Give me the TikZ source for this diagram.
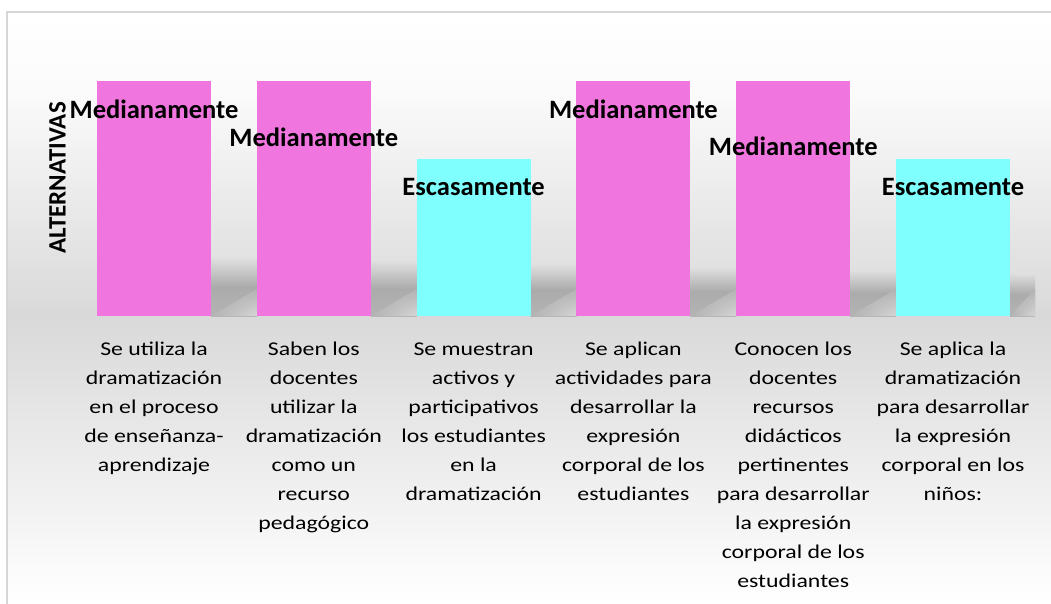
\documentclass[tikz,border=0pt]{standalone}
\usepackage{fontspec}
\usetikzlibrary{shadings}
\setmainfont{Carlito}
\newfontfamily\catfont{Carlito}[FakeStretch=1.22]
\definecolor{mag}{HTML}{F075DE}
\definecolor{cyn}{HTML}{80FFFF}
\definecolor{framegray}{HTML}{D6D6D6}
\definecolor{bgA}{HTML}{FBFBFB}
\definecolor{bgB}{HTML}{D9D9D9}
\definecolor{flA}{HTML}{E0E0E0}
\definecolor{flB}{HTML}{ABABAB}
\definecolor{flC}{HTML}{B4B4B4}
\definecolor{flD}{HTML}{B2B2B2}
\definecolor{flE}{HTML}{D6D6D6}
\tikzset{
  barbox/.style={draw=none, inner sep=0pt, minimum width=114pt, minimum height=#1, anchor=south},
  maglabel/.style={font=\bfseries\fontsize{26.5}{30}\selectfont, inner sep=0pt, anchor=base, text=black},
  catlabel/.style={font=\catfont\fontsize{19.5}{29}\selectfont, inner sep=0pt, anchor=north, align=center, text=black},
  axlabel/.style={font=\bfseries\fontsize{25}{28}\selectfont, inner sep=0pt, rotate=90, text=black}
}
\begin{document}
\begin{tikzpicture}[x=1pt,y=-1pt]
\useasboundingbox (0,0) rectangle (1051,604);
\fill[white] (0,0) rectangle (1051,604);
% chart area background
\shade[top color=white, bottom color=bgA] (7,12) rectangle (1051,90.5);
\shade[top color=bgA, bottom color=bgB] (7,90) rectangle (1051,316.5);
\shade[top color=bgB, bottom color=white] (7,316) rectangle (1051,604);
\draw[framegray, line width=1.2pt] (7,604) -- (7,12) -- (1051,12);
% floor shadows
\foreach \i in {0,...,5}{
  \pgfmathsetmacro{\xr}{211+159.8*\i}
  \pgfmathsetmacro{\xn}{\i<5 ? 257+159.8*\i : 1035}
  \pgfmathsetmacro{\yt}{258+3*\i}
  \shade[top color=flA, bottom color=flC, middle color=flB] (\xr,\yt) rectangle (\xn,316);
  \shade[upper left=flD, lower left=flD, upper right=flD, lower right=flE] (\xr,316) -- (\xn,289) -- (\xn,316) -- cycle;
}
% bars
\node[barbox=235pt, fill=mag] (b1) at (154,316) {};
\node[barbox=235pt, fill=mag] (b2) at (313.8,316) {};
\node[barbox=157pt, fill=cyn] (b3) at (473.6,316) {};
\node[barbox=235pt, fill=mag] (b4) at (633.4,316) {};
\node[barbox=235pt, fill=mag] (b5) at (793.2,316) {};
\node[barbox=157pt, fill=cyn] (b6) at (953,316) {};
% value labels
\node[maglabel] (v1) at (154,118.3) {Medianamente};
\node[maglabel] (v2) at (313.8,146.7) {Medianamente};
\node[maglabel] (v3) at (473.6,196) {Escasamente};
\node[maglabel] (v4) at (633.4,118.3) {Medianamente};
\node[maglabel] (v5) at (793.2,156) {Medianamente};
\node[maglabel] (v6) at (953,196) {Escasamente};
% axis title
\node[axlabel] (ax) at (57.5,178) {ALTERNATIVAS};
% category labels
\node[catlabel] (c1) at (154,335) {\rule{0pt}{20pt}Se utiliza la\\dramatización\\en el proceso\\de enseñanza-\\aprendizaje};
\node[catlabel] (c2) at (313.8,335) {\rule{0pt}{20pt}Saben los\\docentes\\utilizar la\\dramatización\\como un\\recurso\\pedagógico};
\node[catlabel] (c3) at (473.6,335) {\rule{0pt}{20pt}Se muestran\\activos y\\participativos\\los estudiantes\\en la\\dramatización};
\node[catlabel] (c4) at (633.4,335) {\rule{0pt}{20pt}Se aplican\\actividades para\\desarrollar la\\expresión\\corporal de los\\estudiantes};
\node[catlabel] (c5) at (793.2,335) {\rule{0pt}{20pt}Conocen los\\docentes\\recursos\\didácticos\\pertinentes\\para desarrollar\\la expresión\\corporal de los\\estudiantes};
\node[catlabel] (c6) at (953,335) {\rule{0pt}{20pt}Se aplica la\\dramatización\\para desarrollar\\la expresión\\corporal en los\\niños:};
\end{tikzpicture}
\end{document}
